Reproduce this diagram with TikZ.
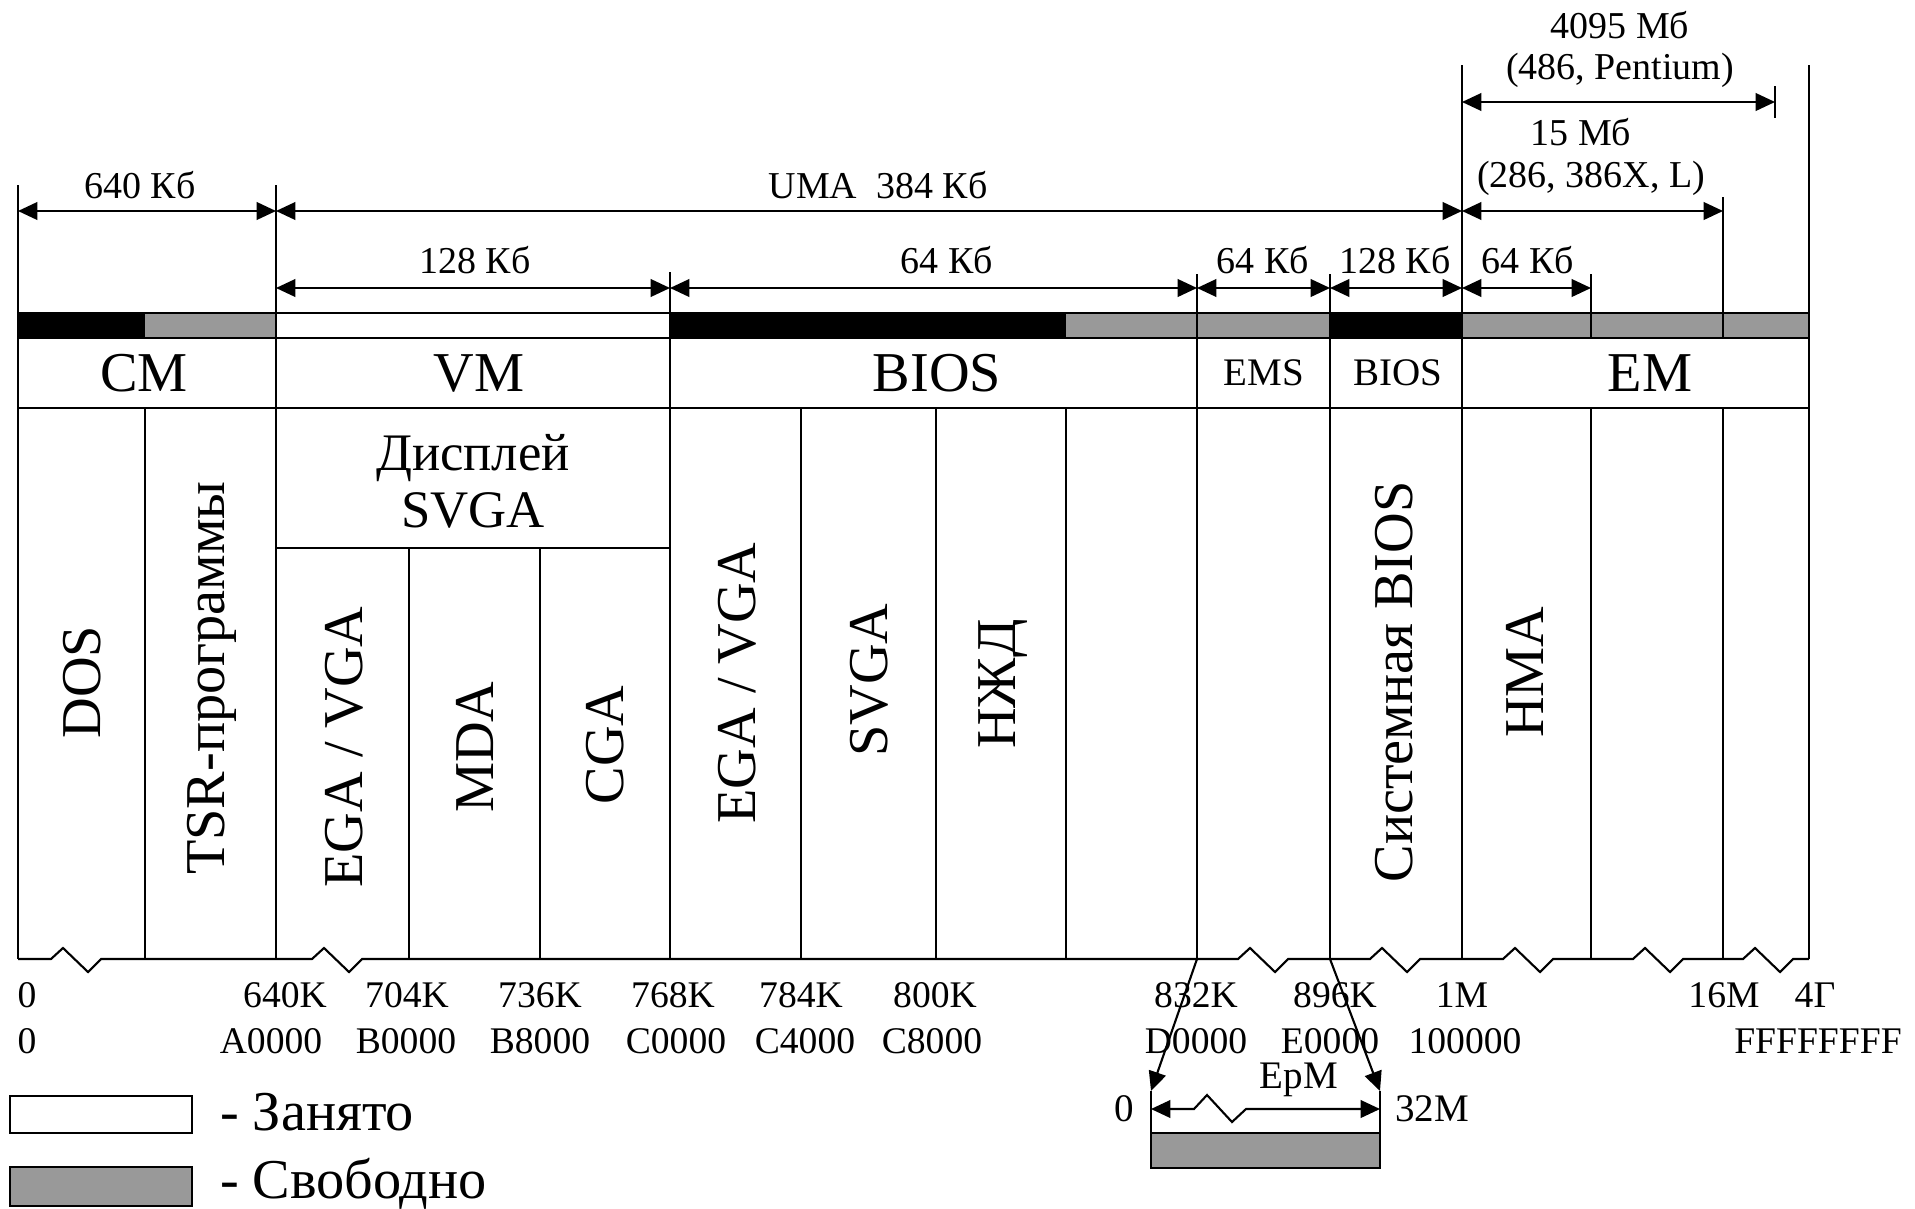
\documentclass[tikz,border=0pt]{standalone}
\usepackage{fontspec}
\setmainfont{Liberation Serif}
\usetikzlibrary{arrows.meta,positioning}

\begin{document}
\begin{tikzpicture}[x=0.01cm,y=-0.01cm,line width=0.6pt,
  tip/.style={Triangle[length=5.5pt,width=5pt]},
  dim/.style={{Triangle[length=5.5pt,width=5pt]}-{Triangle[length=5.5pt,width=5pt]}},
  busy/.style={fill=black},
  free/.style={fill=black!40},
  dimtext/.style={font=\fontsize{10.8}{12}\selectfont,inner sep=0pt},
  addr/.style={font=\fontsize{10.7}{12}\selectfont,inner sep=0pt},
  big/.style={font=\fontsize{16}{18}\selectfont,inner sep=0pt},
  small/.style={font=\fontsize{11.1}{13}\selectfont,inner sep=0pt},
  vlab/.style={font=\fontsize{16}{18}\selectfont,rotate=90,inner sep=0pt},
  legend/.style={font=\fontsize{16}{18}\selectfont,inner sep=0pt,anchor=west}]
  \useasboundingbox (0,0) rectangle (1915,1209);

  % memory bar
  \fill[busy] (18,313) rectangle (145,338);
  \fill[free] (145,313) rectangle (276,338);
  \fill[busy] (670,313) rectangle (1066,338);
  \fill[free] (1066,313) rectangle (1330,338);
  \fill[busy] (1330,313) rectangle (1462,338);
  \fill[free] (1462,313) rectangle (1809,338);
  \draw (18,313) -- (1809,313) (18,338) -- (1809,338);
  \draw (18,408) -- (1809,408);
  \draw (276,548) -- (670,548);

  % boundaries
  \draw (18,185) -- (18,959);
  \draw (276,185) -- (276,959);
  \draw (670,272) -- (670,959);
  \draw (1197,274) -- (1197,959);
  \draw (1330,274) -- (1330,959);
  \draw (1462,65) -- (1462,959);
  \draw (1591,274) -- (1591,338) (1591,408) -- (1591,959);
  \draw (1723,197) -- (1723,338) (1723,408) -- (1723,959);
  \draw (1809,65) -- (1809,959);
  \foreach \x in {145,801,936,1066} \draw (\x,408) -- (\x,959);
  \foreach \x in {409,540} \draw (\x,548) -- (\x,959);

  % bottom line with breaks
  \draw (18,959) \foreach \z in {51,312,1238,1370,1503,1633,1743} {
      -- (\z,959) -- ++(12,-11) -- ++(25,24) -- ++(13,-13) } -- (1809,959);

  % sizes
  \draw[dim] (1462,102) -- (1775,102);
  \draw (1775,86) -- (1775,118);
  \draw[dim] (18,211) -- (276,211);
  \draw[dim] (276,211) -- (1462,211);
  \draw[dim] (1462,211) -- (1723,211);
  \foreach \xa/\xb in {276/670,670/1197,1197/1330,1330/1462,1462/1591}
    \draw[dim] (\xa,288) -- (\xb,288);

  \node[dimtext] (t4095) at (1620,25) {4095 Мб};
  \node[dimtext] (tpent) at (1620,70) {(486, Pentium)};
  \node[dimtext] (t15) at (1581,132) {15 Мб};
  \node[dimtext] (t286) at (1591,178) {(286, 386X, L)};
  \node[dimtext] (t640) at (140,185) {640 Кб};
  \node[dimtext] (tuma) at (878,185) {UMA\ \ 384 Кб};
  \foreach \xt/\txt in {475/128 Кб,947/64 Кб,1263/64 Кб,1395/128 Кб,1528/64 Кб}
    \node[dimtext] (s\xt) at (\xt,260) {\txt};

  % areas
  \node[big] (cm) at (144,373) {CM};
  \node[big] (vm) at (479,373) {VM};
  \node[big] (bios) at (937,373) {BIOS};
  \node[small] (ems) at (1264,373) {EMS};
  \node[small] (sbios) at (1398,373) {BIOS};
  \node[big] (em) at (1650,373) {EM};
  \node[align=center,inner sep=0pt,font=\fontsize{15}{16.2}\selectfont] (disp) at (473,481) {Дисплей\\SVGA};

  \node[vlab] (dos) at (82,682) {DOS};
  \node[vlab] (tsr) at (212,678) {TSR-программы};
  \node[vlab] (ega1) at (344,747) {EGA / VGA};
  \node[vlab] (mda) at (475,747) {MDA};
  \node[vlab] (cga) at (605,745) {CGA};
  \node[vlab] (ega2) at (737,683) {EGA / VGA};
  \node[vlab] (svga) at (869,680) {SVGA};
  \node[vlab] (hdd) at (1003,684) {НЖД};
  \node[vlab] (sysbios) at (1394,682) {Системная BIOS};
  \node[vlab] (hma) at (1525,672) {HMA};

  % addresses
  \foreach \xt/\txt in {27/0,285/640K,407/704K,540/736K,673/768K,801/784K,935/800K,
      1196/832K,1335/896K,1462/1M,1724/16M,1815/4Г}
    \node[addr] (k\xt) at (\xt,995) {\txt};
  \foreach \xt/\txt in {27/0,271/A0000,406/B0000,540/B8000,676/C0000,805/C4000,
      932/C8000,1196/D0000,1330/E0000,1465/100000,1818/FFFFFFFF}
    \node[addr] (h\xt) at (\xt,1041) {\txt};

  % EpM
  \draw[-{Triangle[length=5.5pt,width=5pt]}] (1197,959) -- (1151,1091);
  \draw[-{Triangle[length=5.5pt,width=5pt]}] (1330,959) -- (1380,1091);
  \draw (1151,1091) -- (1151,1133) (1380,1091) -- (1380,1133);
  \filldraw[free] (1151,1133) rectangle (1380,1168);
  \draw[dim] (1151,1109) -- (1194,1109) -- ++(13,-14) -- ++(25,27) -- ++(14,-13) -- (1380,1109);
  \node[small] (e0) at (1124,1109) {0};
  \node[small] (e32) at (1432,1109) {32M};
  \node[small] (epm) at (1299,1080) {EpM};

  % legend
  \draw (10,1096) rectangle (192,1133);
  \filldraw[free] (10,1167) rectangle (192,1206);
  \node[legend] (lbusy) at (219,1112) {- Занято};
  \node[legend] (lfree) at (219,1184) {- Свободно};
\end{tikzpicture}
\end{document}
